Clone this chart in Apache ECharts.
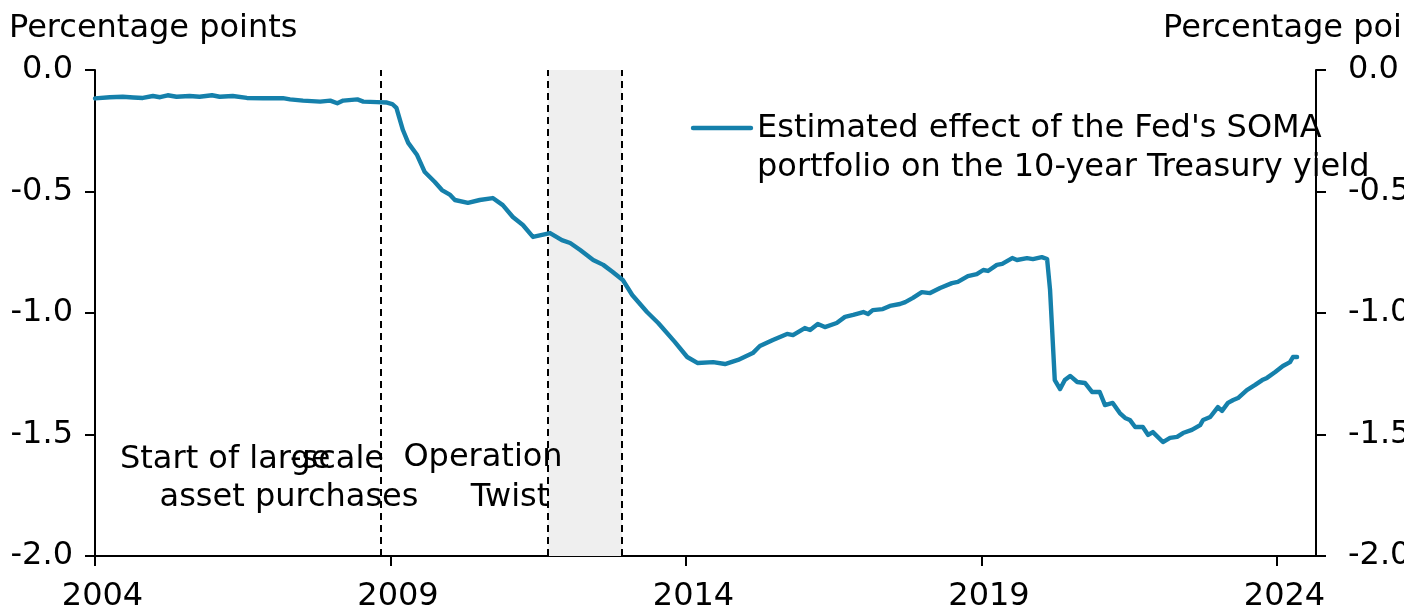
<!DOCTYPE html>
<html>
<head>
<meta charset="utf-8">
<script src="https://cdn.jsdelivr.net/npm/echarts@6/dist/echarts.min.js"></script>
<style>
html,body{margin:0;padding:0;background:#fff;}
#chart{width:1424px;height:614px;}
</style>
</head>
<body>
<div id="chart"></div>
<script>
// decimal-year dates and estimated effect (percentage points)
const dates = [2004.00,2004.25,2004.47,2004.65,2004.81,2004.98,2005.10,2005.23,2005.38,2005.60,2005.77,2005.98,2006.11,2006.33,2006.57,2006.84,2007.18,2007.30,2007.52,2007.81,2007.98,2008.10,2008.20,2008.44,2008.54,2008.77,2008.94,2009.03,2009.10,2009.21,2009.30,2009.45,2009.58,2009.75,2009.87,2010.01,2010.09,2010.31,2010.51,2010.73,2010.90,2011.07,2011.24,2011.41,2011.70,2011.90,2012.04,2012.21,2012.43,2012.60,2012.76,2012.93,2013.09,2013.34,2013.53,2013.81,2014.02,2014.20,2014.46,2014.66,2014.88,2015.13,2015.25,2015.47,2015.71,2015.81,2016.01,2016.10,2016.23,2016.35,2016.55,2016.69,2016.83,2017.00,2017.08,2017.16,2017.33,2017.45,2017.62,2017.71,2017.84,2017.99,2018.13,2018.30,2018.50,2018.60,2018.77,2018.92,2019.03,2019.11,2019.26,2019.35,2019.52,2019.60,2019.77,2019.87,2020.02,2020.11,2020.16,2020.24,2020.33,2020.41,2020.50,2020.62,2020.75,2020.87,2021.00,2021.09,2021.22,2021.34,2021.43,2021.51,2021.60,2021.73,2021.82,2021.90,2022.07,2022.19,2022.31,2022.41,2022.56,2022.70,2022.75,2022.87,2023.00,2023.07,2023.17,2023.26,2023.34,2023.49,2023.63,2023.75,2023.83,2023.97,2024.10,2024.22,2024.27,2024.34];
const effect = [-0.117,-0.112,-0.110,-0.113,-0.115,-0.107,-0.112,-0.104,-0.110,-0.107,-0.110,-0.104,-0.110,-0.107,-0.115,-0.116,-0.116,-0.121,-0.126,-0.130,-0.126,-0.137,-0.126,-0.121,-0.130,-0.132,-0.134,-0.140,-0.156,-0.247,-0.300,-0.350,-0.420,-0.461,-0.494,-0.514,-0.535,-0.547,-0.535,-0.527,-0.556,-0.605,-0.638,-0.687,-0.671,-0.700,-0.712,-0.741,-0.782,-0.802,-0.831,-0.864,-0.926,-0.996,-1.041,-1.119,-1.181,-1.206,-1.202,-1.210,-1.193,-1.165,-1.136,-1.111,-1.086,-1.091,-1.062,-1.070,-1.045,-1.058,-1.041,-1.016,-1.008,-0.996,-1.004,-0.988,-0.984,-0.971,-0.963,-0.955,-0.938,-0.914,-0.918,-0.897,-0.877,-0.872,-0.848,-0.840,-0.823,-0.827,-0.802,-0.798,-0.774,-0.782,-0.774,-0.778,-0.770,-0.778,-0.905,-1.276,-1.313,-1.276,-1.259,-1.284,-1.288,-1.325,-1.325,-1.379,-1.370,-1.412,-1.432,-1.440,-1.469,-1.469,-1.502,-1.490,-1.531,-1.514,-1.510,-1.494,-1.481,-1.461,-1.440,-1.428,-1.387,-1.403,-1.370,-1.358,-1.350,-1.317,-1.296,-1.276,-1.267,-1.243,-1.218,-1.202,-1.181,-1.181];
const xTicks = [2004, 2009, 2014, 2019, 2024];
const eventLines = [2008.83, 2011.66, 2012.92];      // start of LSAP, Operation Twist start/end
const twistPeriod = [2011.66, 2012.92];
const seriesName = "Estimated effect of the Fed's SOMA\nportfolio on the 10-year Treasury yield";
const yTitle = "Percentage points";

const FONT = "DejaVu Sans";
const LINE = "#1580ab";
const chart = echarts.init(document.getElementById('chart'), null, {renderer:'canvas'});
const txt = (text, x, y, align, va) => ({type:'text', x:x, y:y, z:100, silent:true,
  style:{text:text, font:'32px "' + FONT + '"', fill:'#000', align:align, verticalAlign:va || 'middle'}});

const yAxisCommon = {
  type:'value', min:-2, max:0, interval:0.5,
  axisLine:{show:true, lineStyle:{color:'#000', width:2}},
  axisTick:{show:true, inside:false, length:10, lineStyle:{color:'#000', width:2}},
  splitLine:{show:false},
  axisLabel:{fontFamily:FONT, fontSize:32, color:'#000', formatter:v => v.toFixed(1)}
};

chart.setOption({
  animation:false,
  backgroundColor:'#fff',
  grid:{left:95, right:108, top:70, bottom:58, containLabel:false},
  xAxis:{
    type:'value', min:2004, max:2024.66, interval:5,
    axisLine:{show:true, onZero:false, lineStyle:{color:'#000', width:2}},
    axisTick:{show:true, inside:false, length:10, customValues:xTicks, lineStyle:{color:'#000', width:2}},
    splitLine:{show:false},
    axisLabel:{customValues:xTicks, fontFamily:FONT, fontSize:32, color:'#000', margin:25,
      padding:[0,0,0,15], formatter:v => String(Math.round(v))}
  },
  yAxis:[
    Object.assign({}, yAxisCommon, {position:'left',
      axisLabel:Object.assign({}, yAxisCommon.axisLabel, {margin:22})}),
    Object.assign({}, yAxisCommon, {position:'right',
      axisLabel:Object.assign({}, yAxisCommon.axisLabel, {margin:32})})
  ],
  series:[{
    name:seriesName,
    type:'line',
    yAxisIndex:0,
    data:dates.map((d,i) => [d, effect[i]]),
    showSymbol:false,
    symbol:'none',
    lineStyle:{color:LINE, width:4.4, join:'round', cap:'round'},
    z:5,
    markArea:{silent:true, itemStyle:{color:'#efefef'}, data:[[{xAxis:twistPeriod[0]},{xAxis:twistPeriod[1]}]], z:1},
    markLine:{silent:true, symbol:['none','none'], label:{show:false},
      lineStyle:{color:'#000', type:[7,5], width:2},
      data:eventLines.map(v => ({xAxis:v}))}
  }],
  graphic:[
    txt(yTitle, 9, 29, 'left'),
    txt(yTitle, 1163, 29, 'left'),
    {type:'line', z:100, silent:true, shape:{x1:693, y1:128, x2:751, y2:128},
      style:{stroke:LINE, lineWidth:4.4, lineCap:'round'}},
    {type:'text', x:757, y:109, z:100, silent:true,
      style:{text:seriesName, font:'32px "' + FONT + '"', fill:'#000', align:'left', verticalAlign:'top', lineHeight:39}},
    txt('Start of large', 120, 460, 'left'),
    txt('-scale', 384, 460, 'right'),
    txt('asset purchases', 289, 498, 'center'),
    txt('Operation', 483, 458, 'center'),
    txt('Twist', 510, 498, 'center'),
    // the reference picture is cut off at its right edge
    {type:'rect', z:200, silent:true, shape:{x:1404, y:0, width:20, height:614}, style:{fill:'#fff'}}
  ]
});
</script>
</body>
</html>
